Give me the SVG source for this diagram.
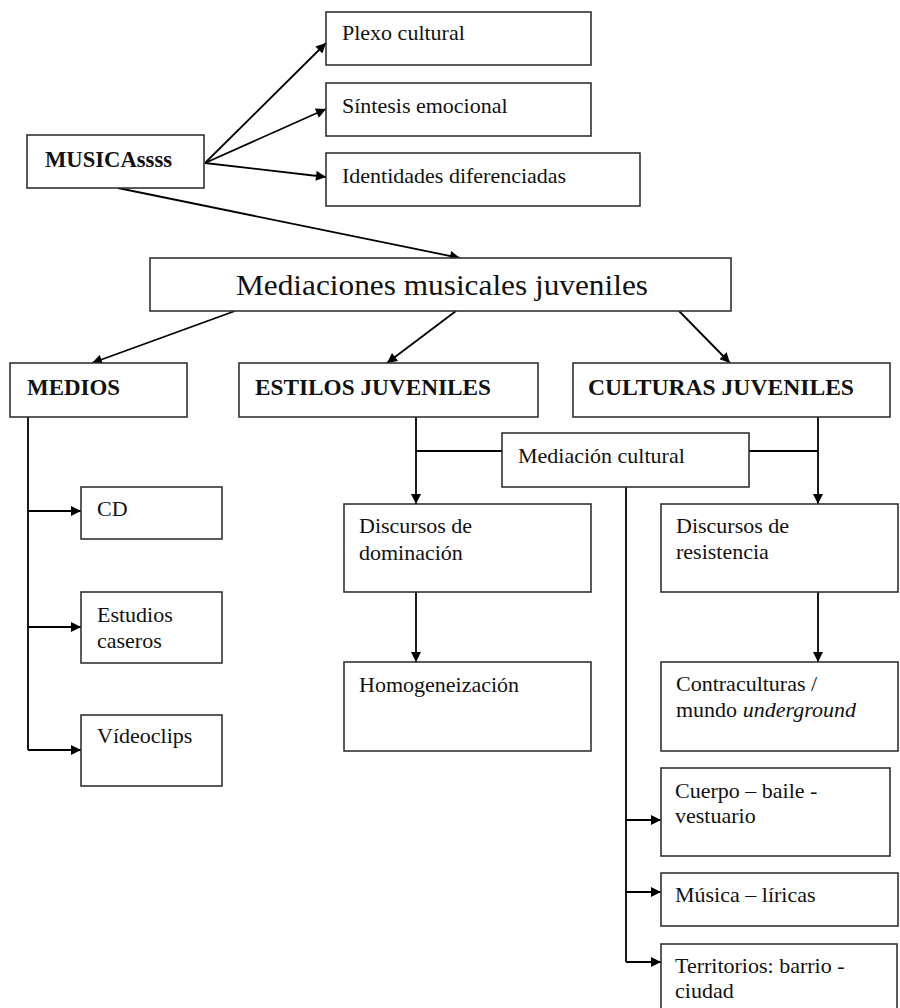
<svg xmlns="http://www.w3.org/2000/svg" width="900" height="1008" viewBox="0 0 900 1008">
<defs>
<marker id="ah" viewBox="0 0 10 10" refX="10" refY="5" markerWidth="12" markerHeight="10" markerUnits="userSpaceOnUse" orient="auto">
<path d="M0,0 L10,5 L0,10 z" fill="#000"/>
</marker>
<style>
.box{fill:#fff;stroke:#333;stroke-width:1.6}
.t{font-family:"Liberation Serif","Times New Roman",serif;font-size:22px;fill:#111}
.b{font-weight:bold;font-size:23px}
.c{fill:none;stroke:#000;stroke-width:1.8}
.a{marker-end:url(#ah)}
</style>
</defs>
<rect width="900" height="1008" fill="#fff"/>
<g id="connectors">
<line class="c a" x1="205" y1="163" x2="326" y2="43"/>
<line class="c a" x1="205" y1="163" x2="326" y2="109"/>
<line class="c a" x1="205" y1="163" x2="326" y2="177"/>
<line class="c a" x1="118" y1="188" x2="460" y2="258"/>
<line class="c a" x1="235" y1="311" x2="92" y2="363"/>
<line class="c a" x1="456" y1="311" x2="387" y2="363"/>
<line class="c a" x1="679" y1="311" x2="730" y2="363"/>
<polyline class="c" points="28,417 28,750"/>
<line class="c a" x1="28" y1="511" x2="81" y2="511"/>
<line class="c a" x1="28" y1="627" x2="81" y2="627"/>
<line class="c a" x1="28" y1="750" x2="81" y2="750"/>
<line class="c a" x1="416" y1="417" x2="416" y2="504"/>
<line class="c" x1="416" y1="451" x2="502" y2="451"/>
<line class="c a" x1="818" y1="417" x2="818" y2="504"/>
<line class="c" x1="749" y1="451" x2="818" y2="451"/>
<line class="c a" x1="416" y1="592" x2="416" y2="662"/>
<line class="c a" x1="818" y1="592" x2="818" y2="662"/>
<line class="c" x1="626" y1="487" x2="626" y2="962"/>
<line class="c a" x1="626" y1="820" x2="661" y2="820"/>
<line class="c a" x1="626" y1="892" x2="661" y2="892"/>
<line class="c a" x1="626" y1="962" x2="661" y2="962"/>
</g>
<g id="plexo"><rect class="box" x="326" y="12" width="265" height="53"/><text class="t" x="342" y="40">Plexo cultural</text></g>
<g id="sintesis"><rect class="box" x="326" y="83" width="265" height="53"/><text class="t" x="342" y="113">Síntesis emocional</text></g>
<g id="identidades"><rect class="box" x="326" y="153" width="314" height="53"/><text class="t" x="342" y="183">Identidades diferenciadas</text></g>
<g id="musica"><rect class="box" x="27" y="135" width="177" height="53"/><text class="t b" x="45" y="167" textLength="127" lengthAdjust="spacingAndGlyphs">MUSICAssss</text></g>
<g id="mediaciones"><rect class="box" x="150" y="258" width="581" height="53"/><text class="t" x="236" y="295" style="font-size:30px" textLength="412" lengthAdjust="spacingAndGlyphs">Mediaciones musicales juveniles</text></g>
<g id="medios"><rect class="box" x="10" y="363" width="177" height="54"/><text class="t b" x="27" y="395" textLength="93" lengthAdjust="spacingAndGlyphs">MEDIOS</text></g>
<g id="estilos"><rect class="box" x="239" y="363" width="299" height="54"/><text class="t b" x="255" y="395" textLength="236" lengthAdjust="spacingAndGlyphs">ESTILOS JUVENILES</text></g>
<g id="culturas"><rect class="box" x="573" y="363" width="317" height="54"/><text class="t b" x="588" y="395" textLength="266" lengthAdjust="spacingAndGlyphs">CULTURAS JUVENILES</text></g>
<g id="mediacion-cultural"><rect class="box" x="502" y="433" width="247" height="54"/><text class="t" x="518" y="463">Mediación cultural</text></g>
<g id="cd"><rect class="box" x="81" y="487" width="141" height="52"/><text class="t" x="97" y="516">CD</text></g>
<g id="estudios"><rect class="box" x="81" y="592" width="141" height="71"/><text class="t" x="97" y="622">Estudios</text><text class="t" x="97" y="648">caseros</text></g>
<g id="videoclips"><rect class="box" x="81" y="715" width="141" height="71"/><text class="t" x="97" y="743">Vídeoclips</text></g>
<g id="dominacion"><rect class="box" x="344" y="504" width="247" height="88"/><text class="t" x="359" y="533">Discursos de</text><text class="t" x="359" y="560">dominación</text></g>
<g id="homogeneizacion"><rect class="box" x="344" y="662" width="247" height="89"/><text class="t" x="359" y="692">Homogeneización</text></g>
<g id="resistencia"><rect class="box" x="661" y="504" width="237" height="88"/><text class="t" x="676" y="533">Discursos de</text><text class="t" x="676" y="559">resistencia</text></g>
<g id="contraculturas"><rect class="box" x="661" y="662" width="237" height="89"/><text class="t" x="676" y="691">Contraculturas /</text><text class="t" x="676" y="717">mundo <tspan font-style="italic">underground</tspan></text></g>
<g id="cuerpo"><rect class="box" x="661" y="768" width="229" height="88"/><text class="t" x="675" y="798">Cuerpo – baile -</text><text class="t" x="675" y="823">vestuario</text></g>
<g id="musica-liricas"><rect class="box" x="661" y="873" width="237" height="53"/><text class="t" x="675" y="902">Música – líricas</text></g>
<g id="territorios"><rect class="box" x="661" y="944" width="236" height="72"/><text class="t" x="675" y="973">Territorios: barrio -</text><text class="t" x="675" y="998">ciudad</text></g>
</svg>
